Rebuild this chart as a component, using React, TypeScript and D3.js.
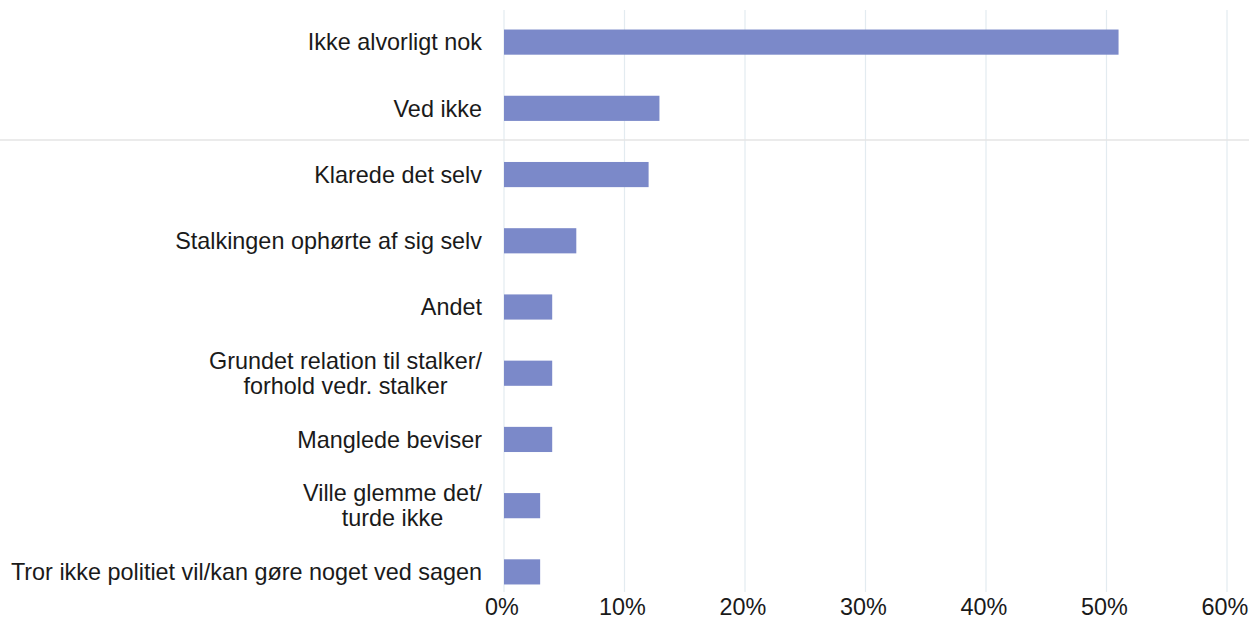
import React, { useEffect, useRef } from "react";
import * as d3 from "d3";

const categories: string[][] = [
  ["Ikke alvorligt nok"],
  ["Ved ikke"],
  ["Klarede det selv"],
  ["Stalkingen ophørte af sig selv"],
  ["Andet"],
  ["Grundet relation til stalker/", "forhold vedr. stalker"],
  ["Manglede beviser"],
  ["Ville glemme det/", "turde ikke"],
  ["Tror ikke politiet vil/kan gøre noget ved sagen"],
];
const values: number[] = [0.51, 0.129, 0.12, 0.06, 0.04, 0.04, 0.04, 0.03, 0.03];
const ticks: number[] = [0, 0.1, 0.2, 0.3, 0.4, 0.5, 0.6];

const W = 1249;
const H = 643;
const FONT = "'Liberation Sans', Arial, sans-serif";
const FS = 23.4;

export default function App() {
  const ref = useRef<SVGSVGElement>(null);
  useEffect(() => {
    const svg = d3.select(ref.current);
    svg.selectAll("*").remove();
    const keys = categories.map((_, i) => String(i));
    const x = d3.scaleLinear().domain([0, 0.6]).range([504, 1227]);
    const y = d3
      .scaleBand<string>()
      .domain(keys)
      .range([9, 605])
      .paddingInner(0.62)
      .paddingOuter(0.31);

    svg.append("rect").attr("width", W).attr("height", H).attr("fill", "#ffffff");

    // gridlines
    svg
      .append("g")
      .selectAll("line")
      .data(ticks)
      .join("line")
      .attr("x1", (d) => x(d))
      .attr("x2", (d) => x(d))
      .attr("y1", 10)
      .attr("y2", 592)
      .attr("stroke", "#e3ebf0")
      .attr("stroke-width", 1.2);

    // faint scan fold line
    svg
      .append("line")
      .attr("x1", 0)
      .attr("x2", W)
      .attr("y1", 140)
      .attr("y2", 140)
      .attr("stroke", "#e4e4e4")
      .attr("stroke-width", 1.5);

    // bars
    svg
      .append("g")
      .selectAll("rect")
      .data(values)
      .join("rect")
      .attr("x", x(0))
      .attr("y", (_, i) => y(keys[i])!)
      .attr("width", (d) => x(d) - x(0))
      .attr("height", y.bandwidth())
      .attr("fill", "#7b89c9");

    // category labels
    const lineH = 25;
    const labelRight = 482;
    const lg = svg.append("g");
    categories.forEach((lines, i) => {
      const cy = y(keys[i])! + y.bandwidth() / 2;
      const t = lg
        .append("text")
        .attr("font-family", FONT)
        .attr("font-size", FS)
        .attr("fill", "#1a1a1a");
      const spans = lines.map((ln, j) =>
        t
          .append("tspan")
          .attr("y", cy + (j - (lines.length - 1) / 2) * lineH)
          .attr("dy", "0.35em")
          .text(ln)
      );
      if (lines.length === 1) {
        t.attr("text-anchor", "end");
        spans[0].attr("x", labelRight);
      } else {
        const widths = spans.map((s) => (s.node() as SVGTSpanElement).getComputedTextLength());
        const maxW = Math.max(...widths);
        t.attr("text-anchor", "middle");
        spans.forEach((s) => s.attr("x", labelRight - maxW / 2));
      }
    });

    // x tick labels
    svg
      .append("g")
      .selectAll("text")
      .data(ticks)
      .join("text")
      .attr("x", (d) => x(d) - 2)
      .attr("y", 607)
      .attr("dy", "0.35em")
      .attr("text-anchor", "middle")
      .attr("font-family", FONT)
      .attr("font-size", FS)
      .attr("fill", "#1a1a1a")
      .text((d) => d3.format(".0%")(d));
  }, []);

  return (
    <svg
      ref={ref}
      width={W}
      height={H}
      style={{ position: "absolute", left: 0, top: 0, display: "block" }}
    />
  );
}
